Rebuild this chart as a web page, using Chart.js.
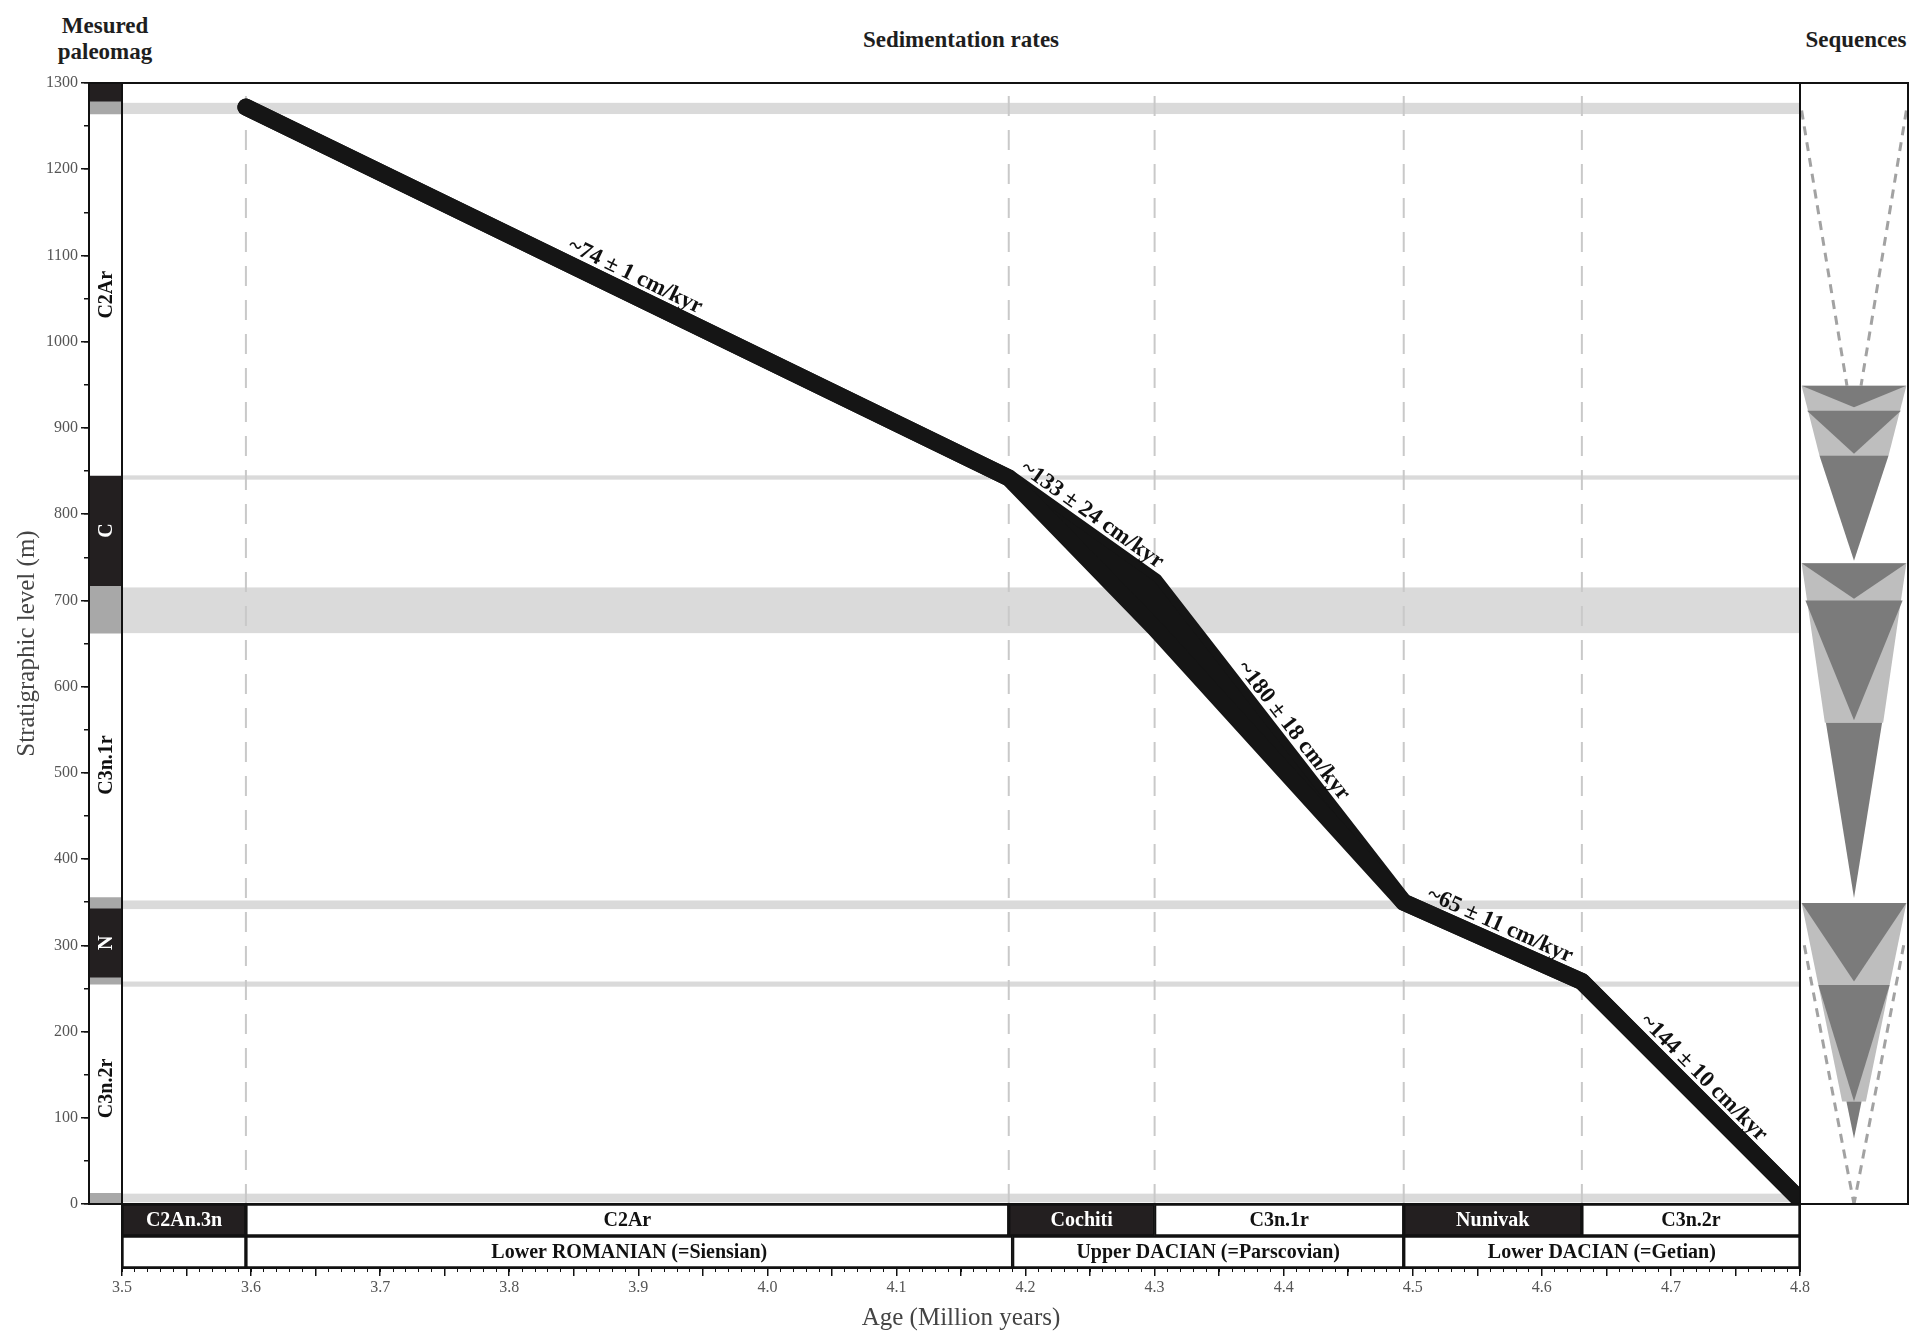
<!DOCTYPE html>
<html>
<head>
<meta charset="utf-8">
<script src="https://cdn.jsdelivr.net/npm/chart.js@4.4.1/dist/chart.umd.min.js"></script>
<style>
  html, body { margin: 0; padding: 0; background: #fff; width: 1914px; height: 1335px; overflow: hidden; }
  .layer { position: absolute; left: 0; top: 0; width: 1914px; height: 1335px; }
  .head { position: absolute; font-family: 'Liberation Serif', 'Times New Roman', serif; font-weight: bold;
          font-size: 23px; color: #1e1e1e; text-align: center; line-height: 26px;
          transform: translateX(-50%); white-space: nowrap; }
</style>
</head>
<body>
<div class="head" style="left:105px; top:13px">Mesured<br>paleomag</div>
<div class="head" style="left:961px; top:27px">Sedimentation rates</div>
<div class="head" style="left:1856px; top:27px">Sequences</div>
<canvas id="cMag" class="layer" width="1914" height="1335"></canvas>
<canvas id="cMain" class="layer" width="1914" height="1335"></canvas>
<canvas id="cAge" class="layer" width="1914" height="1335"></canvas>
<canvas id="cSeq" class="layer" width="1914" height="1335"></canvas>
<script>
// ---- axes ranges ----
const ageMin = 3.5, ageMax = 4.8;
const levelMin = 0, levelMax = 1300;

// ---- age–depth model (tie points; upper/lower edges of the rate envelope) ----
const tieAges        = [3.596, 4.187, 4.300, 4.493, 4.631, 4.800];
const tieLevelsUpper = [1272,  842,   722,   350,   258,   5];
const tieLevelsLower = [1272,  842,   668,   350,   258,   5];
const rates      = [74, 133, 180, 65, 144];   // cm/kyr
const rateErrors = [1, 24, 18, 11, 10];

// ---- polarity chrons (Ma) ----
const chronNames    = ['C2An.3n', 'C2Ar', 'Cochiti', 'C3n.1r', 'Nunivak', 'C3n.2r'];
const chronBounds   = [3.5, 3.596, 4.187, 4.300, 4.493, 4.631, 4.8];
const chronPolarity = ['N', 'R', 'N', 'R', 'N', 'R'];

// ---- regional stages (Ma) ----
const stageNames  = ['', 'Lower ROMANIAN (=Siensian)', 'Upper DACIAN (=Parscovian)', 'Lower DACIAN (=Getian)'];
const stageBounds = [3.5, 3.596, 4.19, 4.493, 4.8];

// ---- measured paleomagnetic zones (m) ----
const magZoneNames    = ['', '', 'C2Ar', 'C', '', 'C3n.1r', '', 'N', '', 'C3n.2r', ''];
const magZoneBase     = [1279, 1264, 845, 717, 662, 356, 343, 263, 255, 13, 0];
const magZoneTop      = [1300, 1279, 1264, 845, 717, 662, 356, 343, 263, 255, 13];
const magZonePolarity = ['N', '?', 'R', 'N', '?', 'R', '?', 'N', '?', 'R', '?'];

// ---- uncertain reversal intervals (m) ----
const transitionBase = [1264, 840, 662, 342, 252, 2];
const transitionTop  = [1277, 845, 715, 352, 258, 12];

// ---- sequences: light envelopes, dark cycles, projected trends ----
const seqLightTop       = [949, 743, 349];
const seqLightTopWidth  = [0.97, 0.97, 0.97];
const seqLightBase      = [868, 558, 119];
const seqLightBaseWidth = [0.64, 0.54, 0.22];
const seqDarkTop   = [949, 920, 868, 743, 700, 558, 349, 254, 119];
const seqDarkWidth = [0.97, 0.87, 0.64, 0.97, 0.90, 0.52, 0.97, 0.66, 0.14];
const seqDarkApex  = [924, 870, 746, 702, 561, 355, 258, 119, 76];
const seqTrendTop       = [1268, 300];
const seqTrendTopWidth  = [0.97, 0.92];
const seqTrendBase      = [949, 0];
const seqTrendBaseWidth = [0.13, 0];

// ---- common settings ----
const SERIF = "'Liberation Serif', 'Times New Roman', 'DejaVu Serif', serif";
Chart.defaults.font.family = SERIF;
Chart.defaults.animation = false;
Chart.defaults.responsive = false;
Chart.defaults.plugins.legend.display = false;
Chart.defaults.plugins.tooltip.enabled = false;

const INK = '#151515';
const LINE_W = 17;
const polarityColor = p => p === 'N' ? '#231f20' : (p === 'R' ? '#ffffff' : '#a8a8a8');

const W = 1914, H = 1335;
const areaLeft = 122, areaRight = 1800, areaTop = 83, areaBottom = 1204, seqRight = 1908;

const framePlugin = {
  id: 'frame',
  afterDraw(chart, args, opts) {
    const { ctx, chartArea: a } = chart;
    ctx.save();
    ctx.strokeStyle = '#111';
    ctx.lineWidth = opts.width || 2;
    ctx.strokeRect(a.left, a.top, a.right - a.left, a.bottom - a.top);
    ctx.restore();
  }
};

// ================= paleomagnetic column with the depth axis =================
const magLabelsPlugin = {
  id: 'magLabels',
  afterDatasetsDraw(chart) {
    const { ctx, chartArea: a, scales: { y } } = chart;
    ctx.save();
    ctx.font = 'bold 20px ' + SERIF;
    ctx.textAlign = 'center';
    ctx.textBaseline = 'middle';
    magZoneNames.forEach((name, i) => {
      if (!name) return;
      const cy = (y.getPixelForValue(magZoneBase[i]) + y.getPixelForValue(magZoneTop[i])) / 2;
      ctx.save();
      ctx.translate((a.left + a.right) / 2 + 1, cy);
      ctx.rotate(-Math.PI / 2);
      ctx.fillStyle = magZonePolarity[i] === 'N' ? '#ffffff' : '#111';
      ctx.fillText(name, 0, 0);
      ctx.restore();
    });
    ctx.restore();
  }
};

new Chart(document.getElementById('cMag'), {
  type: 'bar',
  data: {
    labels: ['paleomag'],
    datasets: magZoneBase.map((b, i) => ({
      data: [[b, magZoneTop[i]]],
      backgroundColor: polarityColor(magZonePolarity[i]),
      borderWidth: 0,
      barPercentage: 1,
      categoryPercentage: 1,
      grouped: false
    }))
  },
  options: {
    layout: { padding: { left: 0, right: W - areaLeft, top: areaTop, bottom: H - areaBottom } },
    scales: {
      x: { display: false },
      y: {
        type: 'linear', position: 'left', weight: 1, min: levelMin, max: levelMax,
        afterFit: s => { s.width = 89; },
        ticks: { stepSize: 100, color: '#555', font: { size: 16 }, padding: 3, callback: v => String(v) },
        grid: { drawOnChartArea: false, tickLength: 8, color: '#111', lineWidth: 1.5 },
        border: { display: true, color: '#111', width: 2 },
        title: { display: true, text: 'Stratigraphic level (m)', color: '#444', font: { size: 25 }, padding: { top: 12 } }
      },
      yMinor: {
        type: 'linear', position: 'left', weight: 0, min: levelMin, max: levelMax,
        afterFit: s => { s.width = 0; },
        ticks: { stepSize: 50, display: false },
        grid: { drawOnChartArea: false, tickLength: 5, color: '#111', lineWidth: 1.5 },
        border: { display: false }
      }
    },
    plugins: { frame: { width: 2 } }
  },
  plugins: [framePlugin, magLabelsPlugin]
});

// ================= sedimentation rate panel =================
const transitionPlugin = {
  id: 'transitions',
  beforeDatasetsDraw(chart) {
    const { ctx, chartArea: a, scales: { y } } = chart;
    ctx.save();
    ctx.fillStyle = '#dadada';
    transitionBase.forEach((b, i) => {
      const y1 = y.getPixelForValue(transitionTop[i]);
      const y2 = y.getPixelForValue(b);
      ctx.fillRect(a.left, y1, a.right - a.left, y2 - y1);
    });
    ctx.restore();
  }
};

const rateLabelPlugin = {
  id: 'rateLabels',
  afterDatasetsDraw(chart) {
    const { ctx, scales: { x, y } } = chart;
    ctx.save();
    ctx.font = 'bold 23px ' + SERIF;
    ctx.fillStyle = '#111';
    ctx.textAlign = 'center';
    ctx.textBaseline = 'middle';
    rates.forEach((r, i) => {
      const x0 = x.getPixelForValue(tieAges[i]), y0 = y.getPixelForValue(tieLevelsUpper[i]);
      const x1 = x.getPixelForValue(tieAges[i + 1]), y1 = y.getPixelForValue(tieLevelsUpper[i + 1]);
      const dx = x1 - x0, dy = y1 - y0, len = Math.hypot(dx, dy);
      const off = 18;
      const cx = (x0 + x1) / 2 + dy / len * off;
      const cy = (y0 + y1) / 2 - dx / len * off;
      ctx.save();
      ctx.translate(cx, cy);
      ctx.rotate(Math.atan2(dy, dx));
      ctx.fillText('~' + r + ' \u00b1 ' + rateErrors[i] + ' cm/kyr', 0, 0);
      ctx.restore();
    });
    ctx.restore();
  }
};

const boundaryLines = chronBounds.slice(1, -1).map(a => ({
  data: [{ x: a, y: levelMin }, { x: a, y: levelMax }],
  borderColor: '#c9c9c9', borderWidth: 2, borderDash: [20, 14],
  pointRadius: 0, fill: false, order: 5
}));

new Chart(document.getElementById('cMain'), {
  type: 'line',
  data: {
    datasets: [
      {
        data: tieAges.map((a, i) => ({ x: a, y: tieLevelsUpper[i] })),
        borderColor: INK, borderWidth: LINE_W, borderCapStyle: 'round', borderJoinStyle: 'round',
        pointRadius: 0, tension: 0, fill: false, order: 1
      },
      {
        data: tieAges.map((a, i) => ({ x: a, y: tieLevelsLower[i] })),
        borderColor: INK, borderWidth: LINE_W, borderCapStyle: 'round', borderJoinStyle: 'round',
        pointRadius: 0, tension: 0, fill: '-1', backgroundColor: INK, order: 0
      },
      ...boundaryLines
    ]
  },
  options: {
    layout: { padding: { left: areaLeft, right: W - areaRight, top: areaTop, bottom: H - areaBottom } },
    scales: {
      x: { type: 'linear', min: ageMin, max: ageMax, display: false },
      y: { type: 'linear', min: levelMin, max: levelMax, display: false }
    },
    plugins: { frame: { width: 2 } }
  },
  plugins: [transitionPlugin, rateLabelPlugin, framePlugin]
});

// ================= chron / stage rows and age axis =================
const cellLabelPlugin = {
  id: 'cellLabels',
  afterDatasetsDraw(chart) {
    const { ctx } = chart;
    ctx.save();
    ctx.font = 'bold 20px ' + SERIF;
    ctx.textAlign = 'center';
    ctx.textBaseline = 'middle';
    chart.data.datasets.forEach((ds, di) => {
      const meta = chart.getDatasetMeta(di);
      ds.data.forEach((v, idx) => {
        if (!v || !ds.cellLabel) return;
        const el = meta.data[idx];
        ctx.fillStyle = ds.cellText;
        ctx.fillText(ds.cellLabel, (el.x + el.base) / 2, el.y + 1);
      });
    });
    ctx.restore();
  }
};

const chronCells = chronNames.map((n, i) => ({
  data: [[chronBounds[i], chronBounds[i + 1]], null],
  backgroundColor: polarityColor(chronPolarity[i]),
  cellLabel: n,
  cellText: chronPolarity[i] === 'N' ? '#ffffff' : '#111'
}));
const stageCells = stageNames.map((n, i) => ({
  data: [null, [stageBounds[i], stageBounds[i + 1]]],
  backgroundColor: '#ffffff',
  cellLabel: n,
  cellText: '#111'
}));

const isTenth = v => Math.abs(v * 10 - Math.round(v * 10)) < 1e-6;

new Chart(document.getElementById('cAge'), {
  type: 'bar',
  data: {
    labels: ['chron', 'stage'],
    datasets: [...chronCells, ...stageCells].map(d => Object.assign(d, {
      borderColor: '#111', borderWidth: 2, borderSkipped: false,
      barPercentage: 1, categoryPercentage: 1, grouped: false
    }))
  },
  options: {
    indexAxis: 'y',
    layout: { padding: { left: areaLeft, right: W - areaRight, top: areaBottom, bottom: 0 } },
    scales: {
      y: { display: false },
      x: {
        type: 'linear', position: 'bottom', weight: 1, min: ageMin, max: ageMax,
        afterFit: s => { s.height = 67; },
        ticks: {
          stepSize: 0.05, autoSkip: false, maxRotation: 0, color: '#555', font: { size: 16 }, padding: 2,
          callback: v => isTenth(v) ? (Math.round(v * 10) / 10).toFixed(1) : ''
        },
        grid: { drawOnChartArea: false, tickLength: 8, color: '#111', lineWidth: 1.5 },
        border: { color: '#111', width: 2 },
        title: { display: true, text: 'Age (Million years)', color: '#444', font: { size: 25 }, padding: { top: 0, bottom: 2 } }
      },
      xMinor: {
        type: 'linear', position: 'bottom', weight: 0, min: ageMin, max: ageMax,
        afterFit: s => { s.height = 0; },
        ticks: { stepSize: 0.01, maxTicksLimit: 200, autoSkip: false, display: false },
        grid: { drawOnChartArea: false, tickLength: 4, color: '#111', lineWidth: 1 },
        border: { display: false }
      }
    },
    plugins: { frame: { width: 2 } }
  },
  plugins: [cellLabelPlugin, framePlugin]
});

// ================= sequences column =================
const DARK = '#7b7b7b', LIGHT = '#bebebe';
const seqSets = [];
seqDarkTop.forEach((t, i) => seqSets.push({
  data: [{ x: -seqDarkWidth[i], y: t }, { x: seqDarkWidth[i], y: t }, { x: 0, y: seqDarkApex[i] }],
  backgroundColor: DARK, borderWidth: 0, pointRadius: 0, fill: 'shape', order: 1
}));
seqLightTop.forEach((t, i) => seqSets.push({
  data: [{ x: -seqLightTopWidth[i], y: t }, { x: seqLightTopWidth[i], y: t },
         { x: seqLightBaseWidth[i], y: seqLightBase[i] }, { x: -seqLightBaseWidth[i], y: seqLightBase[i] }],
  backgroundColor: LIGHT, borderWidth: 0, pointRadius: 0, fill: 'shape', order: 2
}));
seqTrendTop.forEach((t, i) => {
  [-1, 1].forEach(side => seqSets.push({
    data: [{ x: side * seqTrendTopWidth[i], y: t }, { x: side * seqTrendBaseWidth[i], y: seqTrendBase[i] }],
    borderColor: '#a2a2a2', borderWidth: 3, borderDash: [9, 7], pointRadius: 0, fill: false, order: 3
  }));
});

new Chart(document.getElementById('cSeq'), {
  type: 'line',
  data: { datasets: seqSets },
  options: {
    layout: { padding: { left: areaRight, right: W - seqRight, top: areaTop, bottom: H - areaBottom } },
    scales: {
      x: { type: 'linear', min: -1, max: 1, display: false },
      y: { type: 'linear', min: levelMin, max: levelMax, display: false }
    },
    plugins: { frame: { width: 2 } }
  },
  plugins: [framePlugin]
});
</script>
</body>
</html>
